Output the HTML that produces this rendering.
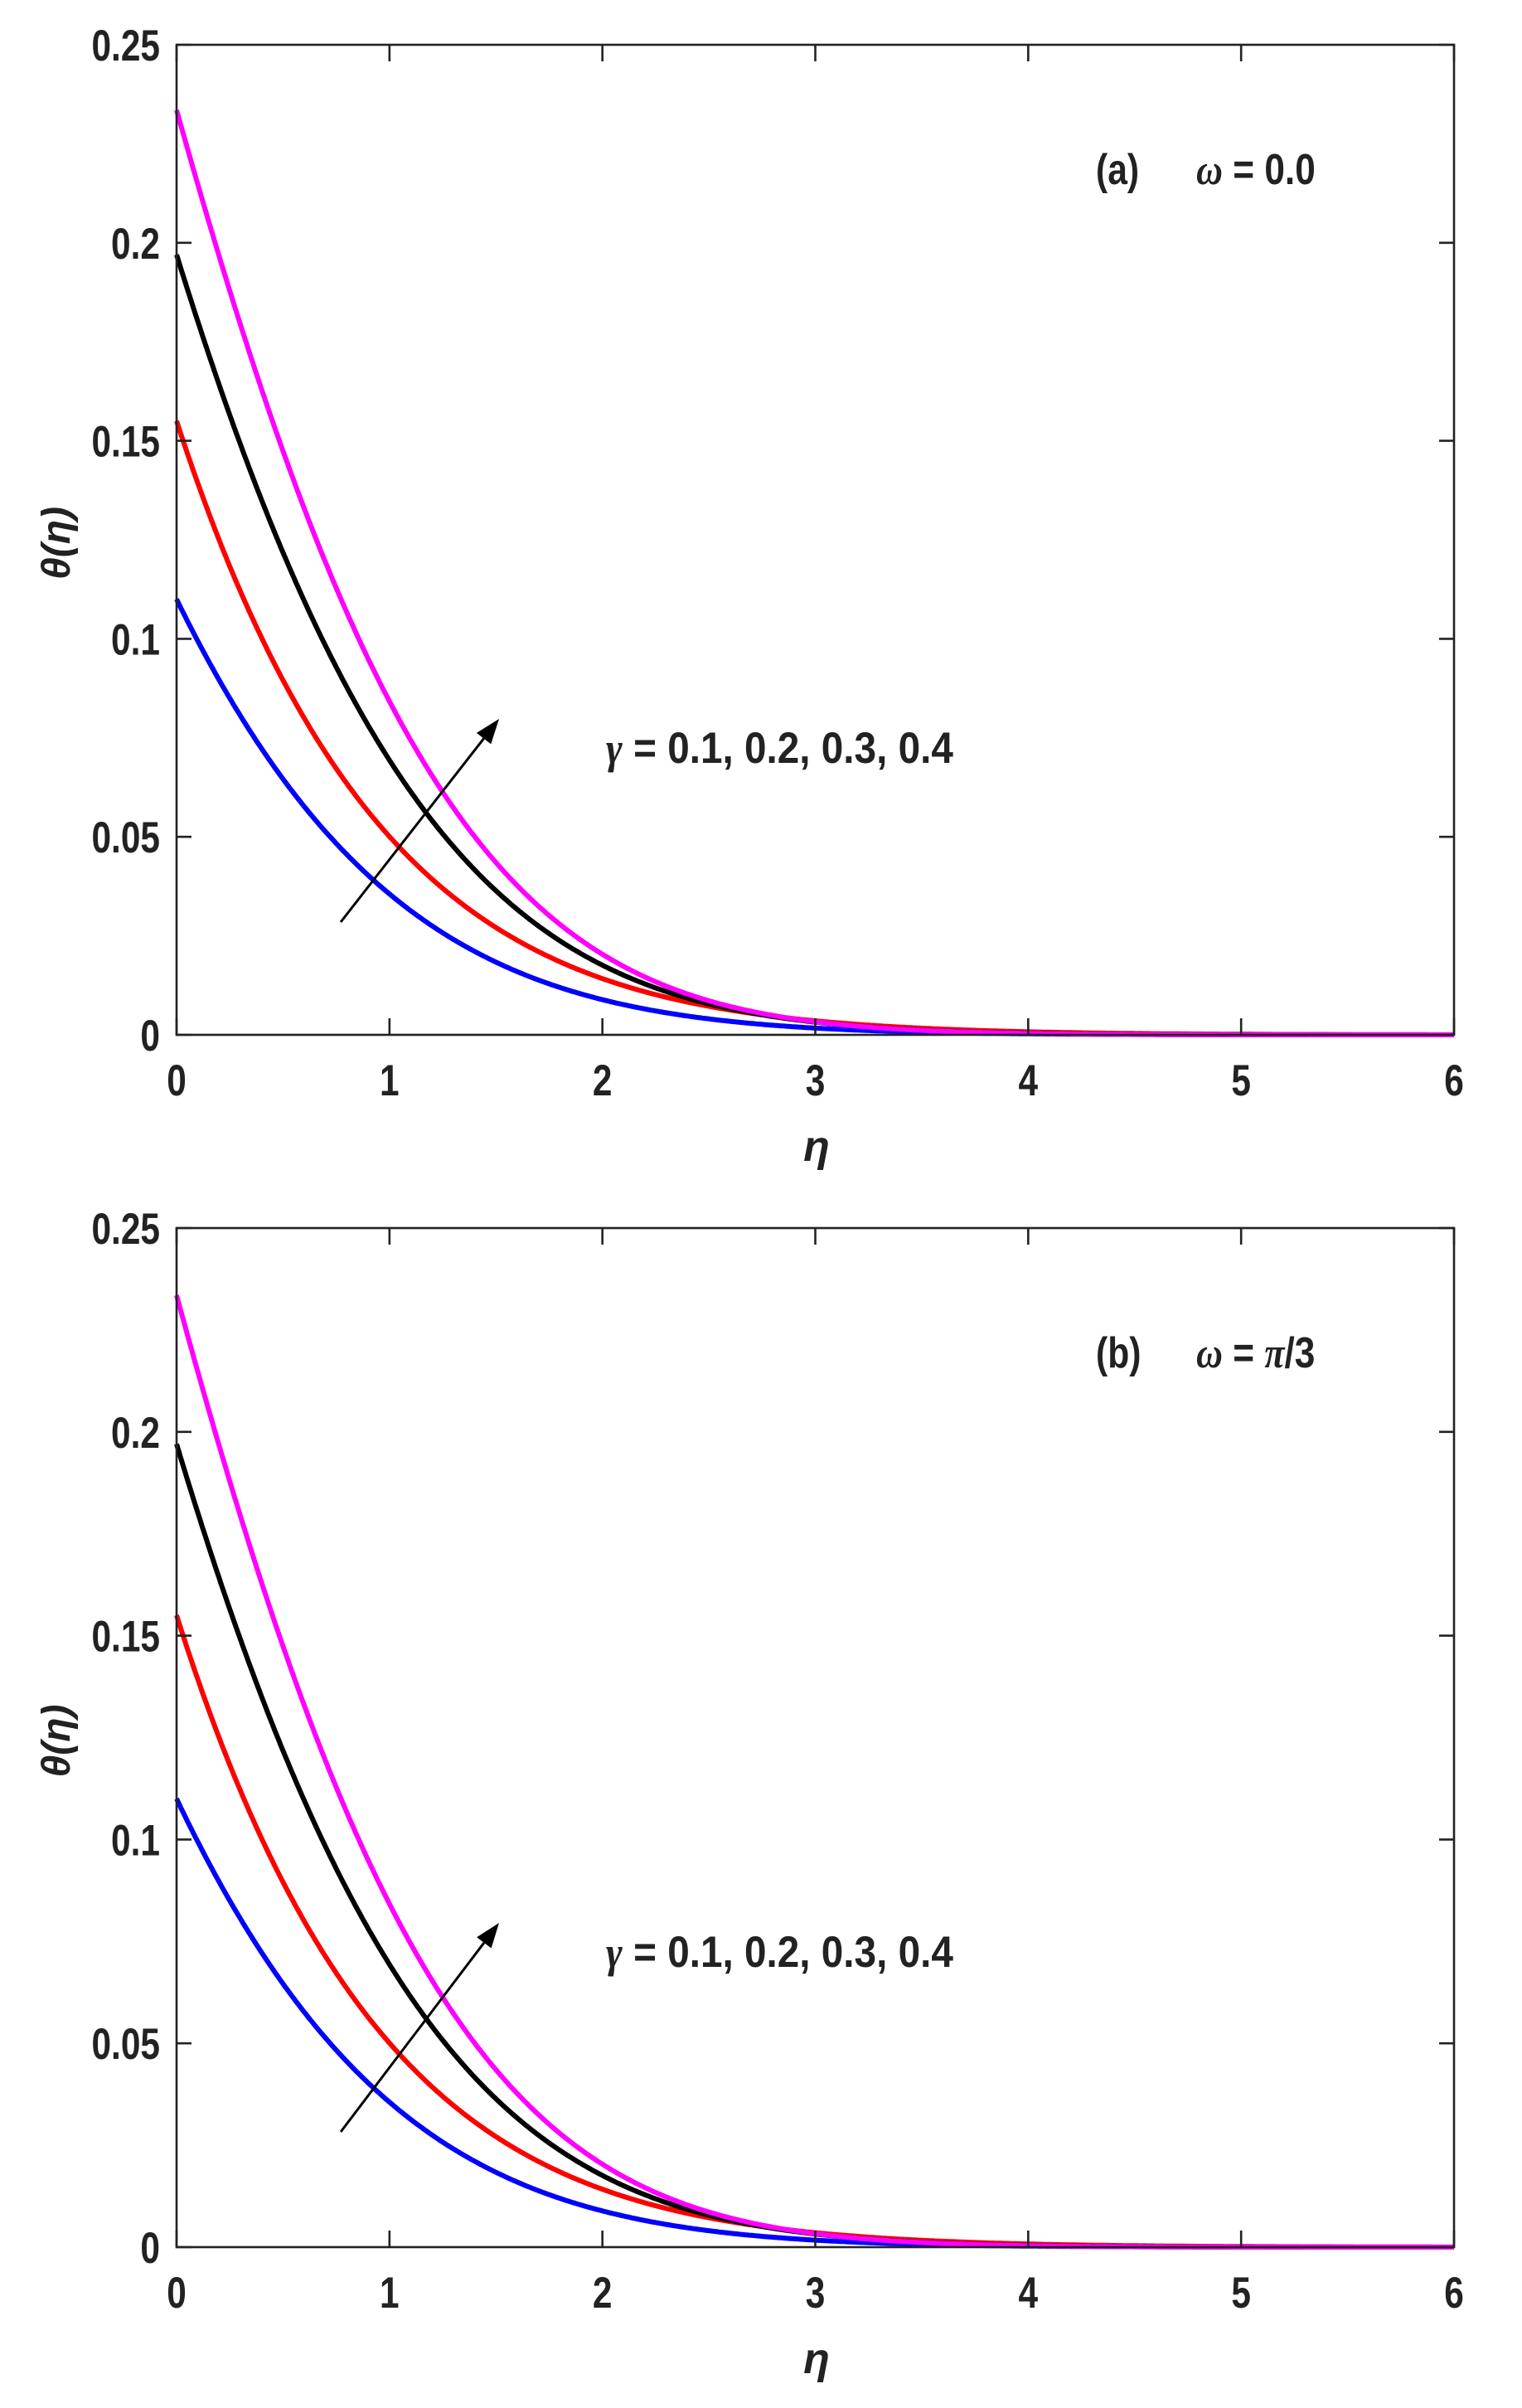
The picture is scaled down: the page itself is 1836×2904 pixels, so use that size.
<!DOCTYPE html>
<html><head><meta charset="utf-8"><style>
html,body{margin:0;padding:0;background:#fff;}
svg{display:block;}
text{font-family:"Liberation Sans",sans-serif;font-weight:bold;fill:#222;}
</style></head><body>
<svg id="s" width="1836" height="2904" viewBox="0 0 1836 2904" xmlns="http://www.w3.org/2000/svg">
<rect width="1836" height="2904" fill="#fff"/>
</svg>
<script>
var NS="http://www.w3.org/2000/svg",S=document.getElementById('s');
function el(t,a,txt){var e=document.createElementNS(NS,t);for(var k in a)e.setAttribute(k,a[k]);if(txt!=null)e.textContent=txt;S.appendChild(e);return e;}
var X0=213,X1=1754;
var data=[
 ["#0000ff",.110,1.0,.129],
 ["#ff0000",.155,1.065,.065],
 ["#000000",.197,.88,.164],
 ["#ff00ff",.2335,.82,.20]
];
function ttext(x,y,s,anchor,size,sx){var g=el('g',{transform:'translate('+x+','+y+') scale('+sx+',1)'});var t=document.createElementNS(NS,'text');t.setAttribute('x',0);t.setAttribute('y',0);t.setAttribute('text-anchor',anchor);t.setAttribute('font-size',size);t.textContent=s;g.appendChild(t);return t;}
function plot(T,B,lab,wtxt,gy,arrow,ety){
 var ux=(X1-X0)/6,uy=(B-T)/0.25;
 function px(e){return X0+e*ux;} function py(v){return B-v*uy;}
 data.forEach(function(c){var d='';for(var k=0;k<=600;k++){var e=k*0.01;var v=c[1]*Math.exp(-c[2]*e-c[3]*e*e);d+=(k?'L':'M')+px(e).toFixed(1)+','+py(v).toFixed(1);}
  el('path',{d:d,fill:'none',stroke:c[0],'stroke-width':6,'stroke-linejoin':'round'});});
 el('rect',{x:X0,y:T,width:X1-X0,height:B-T,fill:'none',stroke:'#222','stroke-width':2.6});
 for(var i=0;i<=6;i++){var x=px(i);el('line',{x1:x,y1:B,x2:x,y2:B-20,stroke:'#222','stroke-width':2.6});el('line',{x1:x,y1:T,x2:x,y2:T+20,stroke:'#222','stroke-width':2.6});
  ttext(x,B+73,String(i),'middle',53,0.8);}
 var yl=['0','0.05','0.1','0.15','0.2','0.25'];
 for(i=0;i<=5;i++){var y=py(i*0.05);el('line',{x1:X0,y1:y,x2:X0+18,y2:y,stroke:'#222','stroke-width':2.6});el('line',{x1:X1,y1:y,x2:X1-18,y2:y,stroke:'#222','stroke-width':2.6});
  ttext(193,y+19,yl[i],'end',53,0.8);}
 var g=el('g',{transform:'translate(84,'+((T+B)/2+4)+') rotate(-90)'});
 var t=document.createElementNS(NS,'text');t.setAttribute('text-anchor','middle');t.setAttribute('font-size',48);t.setAttribute('font-style','italic');t.setAttribute('font-family','"Liberation Serif",serif');t.textContent='θ(η)';g.appendChild(t);
 el('text',{x:985,y:ety,'text-anchor':'middle','font-size':52,'font-style':'italic','font-family':'"Liberation Serif",serif'},'η');
 ttext(1322,T+168,lab,'start',52,0.82);
 var w=ttext(1443,T+168,'','start',52,0.85);
 var ts=document.createElementNS(NS,'tspan');ts.setAttribute('font-style','italic');ts.setAttribute('font-family','"Liberation Serif",serif');ts.textContent='ω';w.appendChild(ts);
 var ts2=document.createElementNS(NS,'tspan');ts2.textContent=' = ';w.appendChild(ts2);
 var ts3=document.createElementNS(NS,'tspan');ts3.textContent=wtxt[0];if(wtxt[1]){ts3.setAttribute('font-style','italic');ts3.setAttribute('font-family','"Liberation Serif",serif');}w.appendChild(ts3);
 if(wtxt[2]){var ts4=document.createElementNS(NS,'tspan');ts4.textContent=wtxt[2];w.appendChild(ts4);}
 var gt=ttext(731,gy,'','start',53,0.9);
 var a1=document.createElementNS(NS,'tspan');a1.setAttribute('font-style','italic');a1.setAttribute('font-family','"Liberation Serif",serif');a1.textContent='γ';gt.appendChild(a1);
 var a2=document.createElementNS(NS,'tspan');a2.textContent=' = 0.1, 0.2, 0.3, 0.4';gt.appendChild(a2);
 var x1=arrow[0],y1=arrow[1],x2=arrow[2],y2=arrow[3];
 var ang=Math.atan2(y2-y1,x2-x1),L=30,W=11;
 var bx=x2-L*Math.cos(ang),by=y2-L*Math.sin(ang);
 el('line',{x1:x1,y1:y1,x2:bx,y2:by,stroke:'#000','stroke-width':3});
 el('polygon',{points:x2+','+y2+' '+(bx+W*Math.sin(ang))+','+(by-W*Math.cos(ang))+' '+(bx-W*Math.sin(ang))+','+(by+W*Math.cos(ang)),fill:'#000'});
}
plot(54,1248,'(a)',['0.0',false],920,[411,1112,602,867],1400);
plot(1481,2710,'(b)',['π',true,'/3'],2372,[411,2571,602,2319],2862);
</script>
</body></html>
